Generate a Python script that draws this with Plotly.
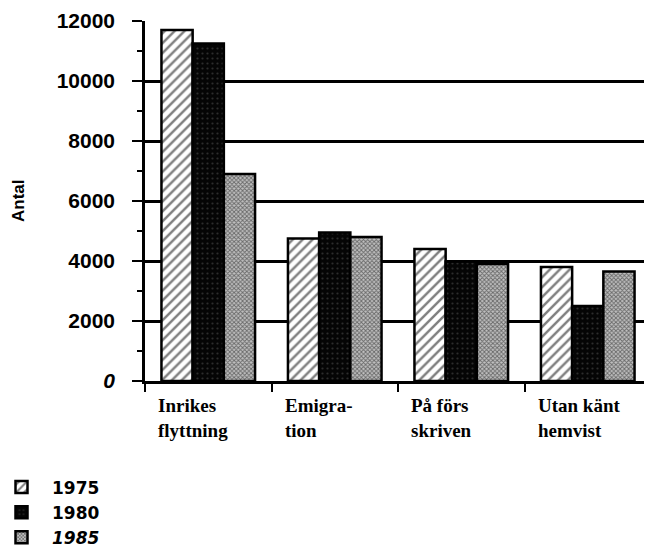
import plotly.graph_objects as go

categories = ["Inrikes\nflyttning", "Emigra-\ntion", "På förs\nskriven", "Utan känt\nhemvist"]
years = ["1975", "1980", "1985"]
values_1975 = [11700, 4750, 4400, 3800]
values_1980 = [11250, 4950, 3980, 2500]
values_1985 = [6900, 4800, 3900, 3650]
y_ticks = [0, 2000, 4000, 6000, 8000, 10000, 12000]
y_ticktext = ["<i>0</i>", "2000", "4000", "6000", "8000", "10000", "12000"]
y_title = "Antal"

series = [values_1975, values_1980, values_1985]
patterns = [
    dict(shape="/", size=7, solidity=0.35, fgcolor="black", bgcolor="white", fillmode="overlay"),
    dict(shape=".", size=5, solidity=0.15, fgcolor="#555555", bgcolor="#050505", fillmode="overlay"),
    dict(shape="x", size=3, solidity=0.5, fgcolor="#111111", bgcolor="#c0c0c0", fillmode="overlay"),
]
names = ["1975", "1980", "<i>1985</i>"]

W, H = 644, 546
ML, MR, MT = 137, 1, 13
MB = H - 373

fig = go.Figure()
for vals, pat, nm in zip(series, patterns, names):
    fig.add_trace(go.Bar(
        x=list(range(len(categories))), y=vals, name=nm,
        marker=dict(color=pat["bgcolor"], pattern=pat, line=dict(color="black", width=2.5)),
    ))

sans = "Liberation Sans, Arial, sans-serif"
serif = "Liberation Serif, Times New Roman, serif"

annotations = []
for i, cat in enumerate(categories):
    annotations.append(dict(
        x=i - 0.5 + 0.09, xref="x", y=0, yref="paper",
        xanchor="left", yanchor="top", yshift=-12,
        text=cat.replace("\n", "<br>"), showarrow=False, align="left",
        font=dict(family=serif, size=19, color="black", weight="bold"),
    ))
annotations.append(dict(
    x=0, xref="paper", y=0.5, yref="paper", xanchor="center", yanchor="middle",
    xshift=-(ML - 10), text=y_title, textangle=-90, showarrow=False,
    font=dict(family=sans, size=17, color="black", weight="bold"),
))

plot_w = W - ML - MR
fig.update_layout(
    width=W, height=H,
    margin=dict(l=ML, r=MR, t=MT, b=MB, autoexpand=False),
    plot_bgcolor="white", paper_bgcolor="white",
    barmode="group", bargap=0.26, bargroupgap=0,
    annotations=annotations,
    showlegend=True,
    legend=dict(
        xref="paper", yref="container", x=(-17 - ML) / plot_w, y=1 - 461.5 / H,
        xanchor="left", yanchor="top",
        font=dict(family="DejaVu Sans, sans-serif", size=17, color="black", weight="bold"),
        itemwidth=51, tracegroupgap=0, bgcolor="rgba(0,0,0,0)",
    ),
    xaxis=dict(
        range=[-0.5, len(categories) - 0.5],
        tickvals=[i - 0.5 for i in range(len(categories) + 1)],
        ticktext=[""] * (len(categories) + 1),
        showline=True, linecolor="black", linewidth=2.5,
        ticks="outside", ticklen=8, tickwidth=2, tickcolor="black",
        showgrid=False, zeroline=False,
    ),
    yaxis=dict(
        range=[0, 12000], tickvals=y_ticks, ticktext=y_ticktext,
        showline=True, linecolor="black", linewidth=2.5, mirror=True,
        ticks="outside", ticklen=10, tickwidth=2, tickcolor="black",
        showgrid=True, gridcolor="black", gridwidth=2.5, zeroline=False,
        tickfont=dict(family=sans, size=21, color="black", weight="bold"),
        ticklabelstandoff=13,
        minor=dict(dtick=1000, ticks="outside", ticklen=5, tickwidth=2, tickcolor="black", showgrid=False),
    ),
)

fig.write_html("out.html")
